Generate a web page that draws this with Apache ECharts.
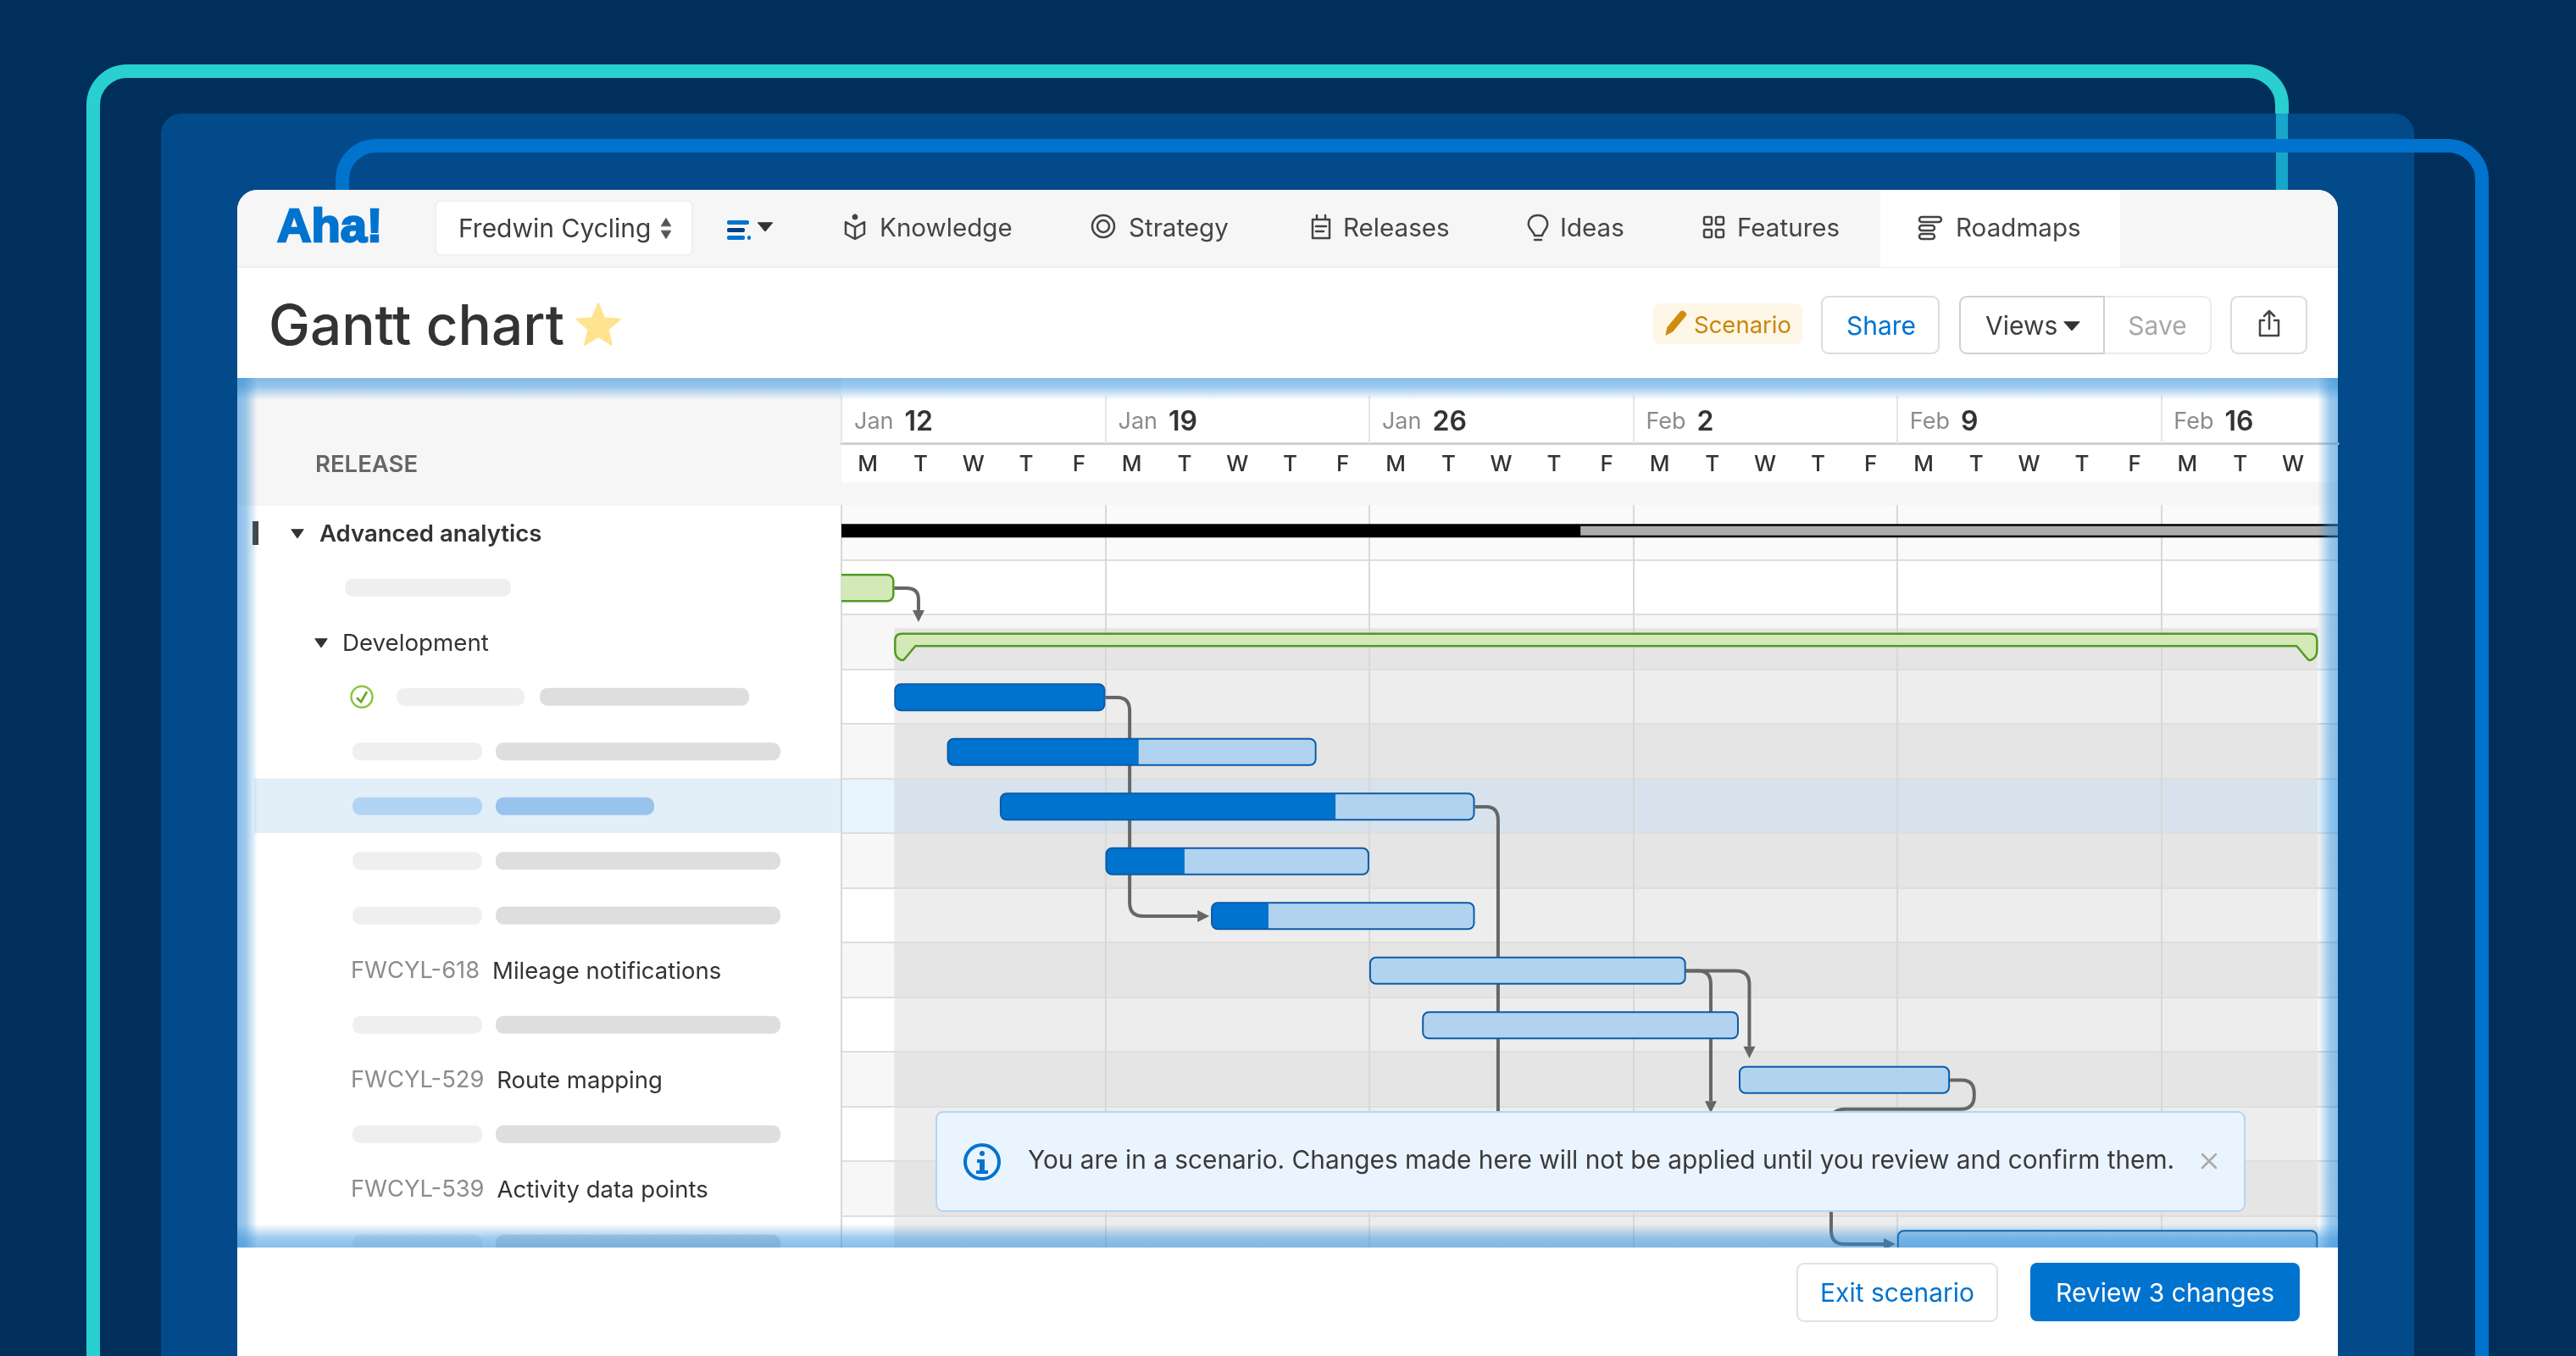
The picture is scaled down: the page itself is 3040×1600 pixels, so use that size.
<!DOCTYPE html>
<html>
<head>
<meta charset="utf-8">
<title>Gantt chart</title>
<script src="https://cdn.jsdelivr.net/npm/echarts@6/dist/echarts.min.js"></script>
<style>
html, body { margin: 0; padding: 0; background: #002f5c; }
#main { width: 3040px; height: 1600px; }
</style>
</head>
<body>
<div id="main"></div>
<script>
// timeline, counted in working days from Mon Jan 12
var weekMonths = ['Jan', 'Jan', 'Jan', 'Feb', 'Feb', 'Feb'];
var weekDays = [12, 19, 26, 2, 9, 16];
var dayLetters = ['M', 'T', 'W', 'T', 'F'];
var dayMax = 28.35;
var rowCount = 14;

// left column
var rowNames = ['Advanced analytics', '', 'Development', '', '', '', '', '', 'Mileage notifications', '', 'Route mapping', '', 'Activity data points', ''];
var rowIds = ['', '', '', '', '', '', '', '', 'FWCYL-618', '', 'FWCYL-529', '', 'FWCYL-539', ''];
var rowLevels = [0, 2, 1, 2, 2, 2, 2, 2, 2, 2, 2, 2, 2, 2];
var placeholderRows = [1, 3, 4, 5, 6, 7, 9, 11, 13];
var highlightRow = 5;
var doneRow = 3;

// release line on the first row
var releaseRow = [0];
var releaseStart = [-1];
var releaseDone = [14];
var releaseEnd = [30];

// lead-in bar and the phase bracket
var leadRow = [1];
var leadStart = [-1];
var leadEnd = [1];
var phaseRow = [2];
var phaseStart = [1];
var phaseEnd = [27.97];

// features
var taskRows = [3, 4, 5, 6, 7, 8, 9, 10, 13];
var taskStarts = [1, 2, 3, 5, 7, 10, 11, 17, 20];
var taskEnds = [5, 9, 12, 10, 12, 16, 17, 21, 27.97];
var taskDone = [5, 5.63, 9.36, 6.5, 8.09, 0, 0, 0, 0];

// dependency routes, [day, row]
var linkRoutes = [
	[[1, 1.5], [1.46, 1.5], [1.46, 2.12]],
	[[5, 3.5], [5.46, 3.5], [5.46, 7.5], [6.97, 7.5]],
	[[12, 5.5], [12.44, 5.5], [12.44, 11.5]],
	[[16, 8.5], [16.47, 8.5], [16.47, 11.1]],
	[[16, 8.5], [17.2, 8.5], [17.2, 10.1]],
	[[21, 10.5], [21.46, 10.5], [21.46, 11.03], [18.75, 11.03], [18.75, 13.5], [19.97, 13.5]]
];

var FONT = 'Inter, "Noto Sans", sans-serif';
var BLUE = '#0073cf';

function box(x, y, w, h, fill, opts) {
	opts = opts || {};
	return {
		type: 'rect', z: opts.z === undefined ? -2 : opts.z, silent: true,
		shape: { x: x, y: y, width: w, height: h, r: opts.r || 0 },
		style: { fill: fill, stroke: opts.stroke || null, lineWidth: opts.lw || 0 }
	};
}
function label(x, y, str, size, color, opts) {
	opts = opts || {};
	return {
		type: 'text', z: opts.z === undefined ? -1 : opts.z, silent: true, x: x, y: y,
		style: {
			text: str, fontFamily: opts.font || FONT, fontSize: size, fontWeight: opts.weight || 400,
			fill: color, align: opts.align || 'left', verticalAlign: 'middle',
			stroke: opts.stroke || null, lineWidth: opts.lw || 0
		}
	};
}
// svg-like icons go through a custom series, the graphic component has no path type
function icon(d, fill, stroke, lw) {
	return { d: d, fill: fill || 'none', stroke: stroke || null, lw: lw || 2.5 };
}
function tri(cx, cy, w, h, up, fill) {
	var d = up
		? 'M' + (cx - w / 2) + ' ' + (cy + h / 2) + 'L' + cx + ' ' + (cy - h / 2) + 'L' + (cx + w / 2) + ' ' + (cy + h / 2) + 'Z'
		: 'M' + (cx - w / 2) + ' ' + (cy - h / 2) + 'L' + cx + ' ' + (cy + h / 2) + 'L' + (cx + w / 2) + ' ' + (cy - h / 2) + 'Z';
	return icon(d, fill, fill, 1);
}
function starPath(cx, cy, R, r) {
	var d = '';
	for (var i = 0; i < 10; i++) {
		var rad = i % 2 ? r : R;
		var a = -Math.PI / 2 + i * Math.PI / 5;
		d += (i ? 'L' : 'M') + (cx + rad * Math.cos(a)).toFixed(1) + ' ' + (cy + rad * Math.sin(a)).toFixed(1);
	}
	return d + 'Z';
}
function grad(x1, y1, x2, y2) {
	return {
		type: 'linear', x: x1, y: y1, x2: x2, y2: y2,
		colorStops: [{ offset: 0, color: 'rgba(40,138,215,0.55)' }, { offset: 0.4, color: 'rgba(40,138,215,0.45)' }, { offset: 1, color: 'rgba(40,138,215,0)' }]
	};
}

// everything around the chart
var chrome = [
	box(110, 84, 2583, 1700, 'none', { r: 40, stroke: '#2acfd0', lw: 16 }),
	box(190, 134, 2659, 1600, '#034a8a', { r: 24 }),
	box(2686, 134, 14, 100, '#18a6cb'),
	box(404, 172, 2525, 1700, 'none', { r: 40, stroke: BLUE, lw: 16 }),
	box(280, 224, 2479, 1400, '#ffffff', { r: [24, 24, 0, 0] }),
	box(280, 224, 2479, 91, '#f6f6f6', { r: [24, 24, 0, 0] }),
	box(280, 314, 2479, 2, '#eeeeee'),
	box(2219, 224, 283, 91, '#ffffff'),
	// top bar
	label(327, 270, 'Aha!', 56, BLUE, { font: '"Liberation Sans", sans-serif', weight: 700, stroke: BLUE, lw: 2.5 }),
	box(514, 237, 303, 64, '#ffffff', { r: 6, stroke: '#f0f0f0', lw: 2 }),
	label(541, 271, 'Fredwin Cycling', 30, '#3d3d3d'),
	box(858, 260, 26, 5, BLUE, { r: 2 }), box(858, 269, 21, 5, '#003f7f', { r: 2 }), box(858, 278, 21, 5, BLUE, { r: 2 }), box(882, 278, 4, 5, BLUE, { r: 2 }),
	label(1038, 270, 'Knowledge', 29.6, '#444'),
	label(1332, 270, 'Strategy', 29.6, '#444'),
	label(1585, 270, 'Releases', 29.6, '#444'),
	label(1841, 270, 'Ideas', 29.6, '#444'),
	box(2011, 256, 9, 9, 'none', { r: 2, stroke: '#444', lw: 2.5, z: -1 }), box(2025, 256, 9, 9, 'none', { r: 2, stroke: '#444', lw: 2.5, z: -1 }),
	box(2011, 271, 9, 9, 'none', { r: 2, stroke: '#444', lw: 2.5, z: -1 }), box(2025, 271, 9, 9, 'none', { r: 2, stroke: '#444', lw: 2.5, z: -1 }),
	label(2050, 270, 'Features', 29.6, '#444'),
	box(2265, 256, 26, 6, 'none', { r: 3, stroke: '#444', lw: 2.5, z: -1 }), box(2265, 266, 18, 6, 'none', { r: 3, stroke: '#444', lw: 2.5, z: -1 }), box(2265, 276, 18, 6, 'none', { r: 3, stroke: '#444', lw: 2.5, z: -1 }),
	label(2308, 270, 'Roadmaps', 29.6, '#444'),
	// title row
	label(317, 387, 'Gantt chart', 65.5, '#333', { weight: 500 }),
	box(1951, 358, 176, 48, '#fef6e7', { r: 8 }),
	label(1999, 385, 'Scenario', 27.5, '#c9860b'),
	box(2150, 350, 138, 67, '#ffffff', { r: 8, stroke: '#dcdcdc', lw: 2 }),
	label(2220, 386, 'Share', 30, BLUE, { align: 'center' }),
	box(2483, 350, 126, 67, '#ffffff', { r: [0, 8, 8, 0], stroke: '#ebebeb', lw: 2 }),
	box(2313, 350, 170, 67, '#ffffff', { r: [8, 0, 0, 8], stroke: '#d0d0d0', lw: 2 }),
	label(2343, 386, 'Views', 30, '#3d3d3d'),
	label(2546, 386, 'Save', 30, '#a8a8a8', { align: 'center' }),
	box(2633, 350, 89, 67, '#ffffff', { r: 8, stroke: '#dcdcdc', lw: 2 }),
	// table heads
	box(280, 446, 713, 151, '#f6f6f6'),
	box(993, 569, 1766, 28, '#f6f6f6'),
	label(372, 549, 'RELEASE', 27.5, '#666', { weight: 600 }),
	box(298, 615, 7, 28, '#444')
];
var chromeIcons = [
	tri(786, 262, 11, 9, true, '#555'),
	tri(786, 277, 11, 9, false, '#555'),
	tri(903, 268, 17, 10, false, '#333'),
	icon('M998 262L1009 268L1020 262V276L1009 282L998 276ZM1009 268V282', 'none', '#444'),
	icon('M1009 253A3 3 0 1 1 1009 259A3 3 0 1 1 1009 253Z', '#444', '#444', 1),
	icon('M1302 254A13 13 0 1 1 1302 280A13 13 0 1 1 1302 254ZM1302 260A7 7 0 1 1 1302 274A7 7 0 1 1 1302 260Z', 'none', '#444'),
	icon('M1549 259H1569V281H1549ZM1554 254V259M1564 254V259M1553 267H1565M1553 273H1562', 'none', '#444'),
	icon('M1815 254C1823 254 1827 260 1826 266C1825 271 1821 273 1820 278H1811C1810 273 1805 271 1804 266C1803 260 1807 254 1815 254ZM1811 283H1819', 'none', '#444'),
	icon(starPath(706, 385, 27, 12), '#ffe38e', '#ffe38e', 2),
	icon('M1966 395L1968 386L1983 368C1986 365 1992 370 1989 373L1974 391Z', '#d08c0e', '#d08c0e', 1),
	tri(2445, 385, 18, 10, false, '#333'),
	icon('M2672 378H2667V396H2689V378H2684M2678 388V368M2672 373L2678 367L2684 373', 'none', '#444'),
	tri(351, 630, 14, 10, false, '#333'),
	tri(379, 759, 14, 10, false, '#333')
];

// drawn over the chart: page bottom, inner glow, notice, buttons
var overlay = [
	box(280, 1472, 2479, 128, '#ffffff', { z: 20 }),
	box(280, 446, 2479, 26, grad(0, 0, 0, 1), { z: 21 }),
	box(280, 1444, 2479, 28, grad(0, 1, 0, 0), { z: 21 }),
	box(280, 446, 24, 1026, grad(0, 0, 1, 0), { z: 21 }),
	box(2735, 446, 24, 1026, grad(1, 0, 0, 0), { z: 21 }),
	box(1105, 1312, 1544, 117, '#e9f4fe', { r: 8, stroke: '#b5d5f0', lw: 2, z: 22 }),
	box(1156, 1368, 6, 15, BLUE, { z: 23 }), box(1153, 1368, 5, 4, BLUE, { z: 23 }), box(1152, 1381, 14, 4, BLUE, { z: 23 }), box(1156, 1358, 6, 6, BLUE, { r: 3, z: 23 }),
	label(1213, 1370, 'You are in a scenario. Changes made here will not be applied until you review and confirm them.', 29.8, '#3a3a3a', { z: 23 }),
	box(2121, 1491, 236, 68, '#ffffff', { r: 8, stroke: '#e2e2e2', lw: 2, z: 23 }),
	label(2239, 1527, 'Exit scenario', 30, BLUE, { align: 'center', z: 23 }),
	box(2396, 1490, 318, 69, BLUE, { r: 8, z: 23 }),
	label(2555, 1527, 'Review 3 changes', 30, '#ffffff', { align: 'center', z: 23 })
];
var overlayIcons = [
	icon('M1159 1351A20 20 0 1 1 1159 1391A20 20 0 1 1 1159 1351Z', 'none', BLUE, 4),
	icon('M2599 1362L2615 1378M2615 1362L2599 1378', 'none', '#aaa', 2.5)
];

function iconSeries(list, z) {
	return {
		type: 'custom', coordinateSystem: 'none', z: z, silent: true,
		data: list.map(function (ic, i) { return [i]; }),
		renderItem: function (params, api) {
			var ic = list[api.value(0)];
			return {
				type: 'path',
				shape: { pathData: ic.d },
				style: { fill: ic.fill, stroke: ic.stroke, lineWidth: ic.lw, lineJoin: 'round', lineCap: 'round' }
			};
		}
	};
}

function bandItem(params, api) {
	var row = api.value(0);
	var a = api.coord([0, row]);
	var b = api.coord([dayMax, row + 1]);
	var fill = row === highlightRow ? '#e8f4fe' : (row === 0 ? '#fafafa' : (row % 2 === 0 ? '#f7f7f7' : '#ffffff'));
	var kids = [{ type: 'rect', shape: { x: a[0], y: a[1], width: b[0] - a[0], height: b[1] - a[1] }, style: { fill: fill } }];
	if (row === highlightRow) {
		kids.push({ type: 'rect', shape: { x: 300, y: a[1], width: a[0] - 300, height: b[1] - a[1] }, style: { fill: '#e2eef8' } });
	}
	return { type: 'group', children: kids };
}

function shadeItem(params, api) {
	var a = api.coord([api.value(0), api.value(2) + 0.25]);
	var b = api.coord([api.value(1), rowCount]);
	return { type: 'rect', shape: { x: a[0], y: a[1], width: b[0] - a[0], height: b[1] - a[1] }, style: { fill: 'rgba(0,0,0,0.07)' } };
}

function pillItem(params, api) {
	var row = api.value(0);
	var y = api.coord([0, row + 0.5])[1] - 10;
	var on = row === highlightRow;
	var kids = [];
	function pill(x, w, fill) {
		kids.push({ type: 'rect', shape: { x: x, y: y, width: w, height: 21, r: 9 }, style: { fill: fill } });
	}
	if (row === 1) {
		pill(407, 196, '#efefef');
	} else if (row === doneRow) {
		pill(468, 151, '#efefef');
		pill(637, 247, '#dedede');
		var c = y + 10.5;
		kids.push({ type: 'circle', shape: { cx: 427, cy: c, r: 12.5 }, style: { fill: 'none', stroke: '#8cc63f', lineWidth: 2.5 } });
		kids.push({ type: 'polyline', shape: { points: [[421, c + 1], [426, c + 6], [433, c - 6]] }, style: { fill: 'none', stroke: '#6aa324', lineWidth: 2.5 } });
	} else {
		pill(416, 153, on ? '#b2d4f4' : '#efefef');
		pill(585, on ? 187 : 336, on ? '#98c3ec' : '#dedede');
	}
	return { type: 'group', children: kids };
}

function roundedPath(pts, r) {
	var d = 'M' + pts[0][0] + ' ' + pts[0][1];
	for (var i = 1; i < pts.length - 1; i++) {
		var p = pts[i], a = pts[i - 1], b = pts[i + 1];
		var la = Math.hypot(a[0] - p[0], a[1] - p[1]), lb = Math.hypot(b[0] - p[0], b[1] - p[1]);
		var ra = Math.min(r, la / 2), rb = Math.min(r, lb / 2);
		d += 'L' + (p[0] + (a[0] - p[0]) / la * ra) + ' ' + (p[1] + (a[1] - p[1]) / la * ra);
		d += 'Q' + p[0] + ' ' + p[1] + ' ' + (p[0] + (b[0] - p[0]) / lb * rb) + ' ' + (p[1] + (b[1] - p[1]) / lb * rb);
	}
	var e = pts[pts.length - 1];
	return d + 'L' + e[0] + ' ' + e[1];
}

function linkItem(params, api) {
	var pts = linkRoutes[api.value(0)].map(function (p) {
		var c = api.coord(p);
		return [c[0], c[1] + 1.2];
	});
	var tip = pts[pts.length - 1], prev = pts[pts.length - 2];
	var len = Math.hypot(tip[0] - prev[0], tip[1] - prev[1]);
	var ux = (tip[0] - prev[0]) / len, uy = (tip[1] - prev[1]) / len;
	var base = [tip[0] - ux * 14, tip[1] - uy * 14];
	pts[pts.length - 1] = base;
	return {
		type: 'group',
		children: [{
			type: 'path',
			shape: { pathData: roundedPath(pts, 16) },
			style: { fill: 'none', stroke: '#666666', lineWidth: 4 }
		}, {
			type: 'polygon',
			shape: { points: [tip, [base[0] - uy * 7, base[1] + ux * 7], [base[0] + uy * 7, base[1] - ux * 7]] },
			style: { fill: '#666666' }
		}]
	};
}

function releaseItem(params, api) {
	var row = api.value(0);
	var s = api.coord([api.value(1), row + 0.5]);
	var m = api.coord([api.value(2), row + 0.5]);
	var e = api.coord([api.value(3), row + 0.5]);
	var top = s[1] - 10, h = 16;
	return {
		type: 'group',
		children: [
			{ type: 'rect', shape: { x: m[0], y: top, width: e[0] - m[0], height: h }, style: { fill: '#000000' } },
			{ type: 'rect', shape: { x: m[0], y: top + 2.5, width: e[0] - m[0], height: h - 5 }, style: { fill: '#adadad' } },
			{ type: 'rect', shape: { x: s[0], y: top, width: m[0] - s[0], height: h }, style: { fill: '#000000' } }
		]
	};
}

function leadItem(params, api) {
	var row = api.value(0);
	var s = api.coord([api.value(1), row + 0.5]);
	var e = api.coord([api.value(2), row + 0.5]);
	return {
		type: 'rect',
		shape: { x: s[0] + 1, y: s[1] - 14.5, width: e[0] - s[0] - 2, height: 31, r: 7 },
		style: { fill: '#d3e9b7', stroke: '#539a20', lineWidth: 2.5 }
	};
}

function phaseItem(params, api) {
	var row = api.value(0);
	var s = api.coord([api.value(1), row + 0.5]);
	var e = api.coord([api.value(2), row + 0.5]);
	var x1 = s[0] + 1, x2 = e[0] - 1, t = s[1] - 9.5, b = s[1] + 5, f = s[1] + 21.5;
	var d = 'M' + x1 + ' ' + (t + 8) + 'Q' + x1 + ' ' + t + ' ' + (x1 + 8) + ' ' + t +
		'L' + (x2 - 8) + ' ' + t + 'Q' + x2 + ' ' + t + ' ' + x2 + ' ' + (t + 8) +
		'L' + x2 + ' ' + (f - 11) + 'Q' + x2 + ' ' + (f - 3) + ' ' + (x2 - 7) + ' ' + f +
		'Q' + (x2 - 9) + ' ' + (f + 1) + ' ' + (x2 - 11) + ' ' + (f - 1) +
		'L' + (x2 - 24) + ' ' + b + 'L' + (x1 + 24) + ' ' + b + 'L' + (x1 + 11) + ' ' + (f - 1) +
		'Q' + (x1 + 9) + ' ' + (f + 1) + ' ' + (x1 + 7) + ' ' + f +
		'Q' + x1 + ' ' + (f - 3) + ' ' + x1 + ' ' + (f - 11) + 'Z';
	return { type: 'path', shape: { pathData: d }, style: { fill: '#d3e9b7', stroke: '#539a20', lineWidth: 2.5, lineJoin: 'round' } };
}

function taskItem(params, api) {
	var row = api.value(0);
	var s = api.coord([api.value(1), row + 0.5]);
	var e = api.coord([api.value(2), row + 0.5]);
	var dn = api.coord([api.value(3), row + 0.5]);
	var x = s[0] + 1, w = e[0] - s[0] - 2, y = s[1] - 14.5, h = 31, r = 7;
	var kids = [{ type: 'rect', shape: { x: x, y: y, width: w, height: h, r: r }, style: { fill: '#b1d3f0' } }];
	if (api.value(3) > 0) {
		var full = api.value(3) >= api.value(2);
		kids.push({
			type: 'rect',
			shape: { x: x, y: y, width: full ? w : dn[0] - x, height: h, r: full ? r : [r, 0, 0, r] },
			style: { fill: BLUE }
		});
	}
	kids.push({ type: 'rect', shape: { x: x, y: y, width: w, height: h, r: r }, style: { fill: 'none', stroke: '#0a5ca8', lineWidth: 2 } });
	return { type: 'group', children: kids };
}

function rowList() {
	var out = [];
	for (var i = 0; i < rowCount; i++) out.push([i]);
	return out;
}

var myChart = echarts.init(document.getElementById('main'));
var option = {
	animation: false,
	backgroundColor: '#002f5c',
	textStyle: { fontFamily: FONT },
	graphic: { elements: chrome.concat(overlay) },
	grid: [
		{ left: 993, right: 281, top: 596, bottom: 101 },
		{ left: 993, right: 281, top: 522, height: 1 }
	],
	xAxis: [{
		type: 'value', gridIndex: 0, position: 'top', min: 0, max: dayMax, interval: 5,
		axisLabel: { show: false }, axisLine: { show: false }, axisTick: { show: false },
		splitLine: { show: true, showMaxLine: false, lineStyle: { color: '#d8d8d8', width: 2 } }
	}, {
		type: 'value', gridIndex: 1, position: 'top', min: 0, max: dayMax, interval: 5,
		axisLine: { show: true, lineStyle: { color: '#d0d0d0', width: 3 } },
		axisTick: { show: true, length: 56, lineStyle: { color: '#e6e6e6', width: 2 } },
		splitLine: { show: false },
		axisLabel: {
			margin: 8, align: 'left', showMaxLabel: false, hideOverlap: false,
			formatter: function (v) {
				var i = v / 5;
				if (i % 1 !== 0 || i >= weekDays.length) return '';
				return '{m|' + weekMonths[i] + '}{d|' + weekDays[i] + '}';
			},
			rich: {
				m: { fontFamily: FONT, fontSize: 27, color: '#8c8c8c', padding: [0, 13, 0, 15] },
				d: { fontFamily: FONT, fontSize: 32, fontWeight: 600, color: '#333333' }
			}
		}
	}, {
		type: 'value', gridIndex: 1, position: 'top', min: 0, max: dayMax, interval: 0.5,
		axisLine: { show: false }, axisTick: { show: false }, splitLine: { show: false },
		axisLabel: {
			inside: true, margin: 13, fontFamily: FONT, fontSize: 26, fontWeight: 500, color: '#333333',
			showMaxLabel: false, hideOverlap: false,
			formatter: function (v) {
				return v % 1 === 0.5 ? dayLetters[Math.floor(v) % 5] : '';
			}
		}
	}],
	yAxis: [{
		type: 'value', gridIndex: 0, inverse: true, min: 0, max: rowCount, interval: 1,
		axisLabel: { show: false }, axisLine: { show: false }, axisTick: { show: false },
		splitLine: { show: true, showMinLine: false, lineStyle: { color: '#dedede', width: 2 } }
	}, {
		type: 'category', gridIndex: 0, inverse: true, data: rowNames, position: 'left',
		axisLine: { show: false }, axisTick: { show: false }, splitLine: { show: false },
		axisLabel: {
			interval: 0, align: 'left', margin: 616, hideOverlap: false,
			formatter: function (name, i) {
				if (!name) return '';
				if (rowIds[i]) return '{id|' + rowIds[i] + '}{name|' + name + '}';
				return rowLevels[i] === 0 ? '{top|' + name + '}' : '{sub|' + name + '}';
			},
			rich: {
				top: { fontFamily: FONT, fontSize: 27.5, fontWeight: 600, color: '#333333', padding: [4, 0, 0, 0] },
				sub: { fontFamily: FONT, fontSize: 27.7, color: '#333333', padding: [4, 0, 0, 27] },
				id: { fontFamily: FONT, fontSize: 27.3, color: '#8c8c8c', padding: [4, 15, 0, 37] },
				name: { fontFamily: FONT, fontSize: 27.5, color: '#333333', padding: [4, 0, 0, 0] }
			}
		}
	}, {
		type: 'value', gridIndex: 1, show: false, min: 0, max: 1
	}],
	series: [
		iconSeries(chromeIcons, 0),
		iconSeries(overlayIcons, 23),
		{ type: 'custom', name: 'rows', z: -1, clip: false, silent: true, renderItem: bandItem, data: rowList(), encode: { x: 0, y: 0 } },
		{ type: 'custom', name: 'shade', z: -1, silent: true, clip: true, renderItem: shadeItem, data: [[phaseStart[0], phaseEnd[0], phaseRow[0]]], encode: { x: 0, y: 2 } },
		{ type: 'custom', name: 'placeholders', z: 1, silent: true, clip: false, renderItem: pillItem, data: placeholderRows.map(function (r) { return [r]; }), encode: { x: 0, y: 0 } },
		{ type: 'custom', name: 'links', z: 2, silent: true, clip: true, renderItem: linkItem, data: linkRoutes.map(function (r, i) { return [i]; }), encode: { x: 0, y: 0 } },
		{ type: 'custom', name: 'release', z: 3, silent: true, clip: true, renderItem: releaseItem, encode: { x: 1, y: 0 },
			data: releaseRow.map(function (r, i) { return [r, releaseStart[i], releaseDone[i], releaseEnd[i]]; }) },
		{ type: 'custom', name: 'lead', z: 3, silent: true, clip: true, renderItem: leadItem, encode: { x: 1, y: 0 },
			data: leadRow.map(function (r, i) { return [r, leadStart[i], leadEnd[i]]; }) },
		{ type: 'custom', name: 'phase', z: 3, silent: true, clip: true, renderItem: phaseItem, encode: { x: 1, y: 0 },
			data: phaseRow.map(function (r, i) { return [r, phaseStart[i], phaseEnd[i]]; }) },
		{ type: 'custom', name: 'tasks', z: 3, silent: true, clip: true, renderItem: taskItem, encode: { x: 1, y: 0 },
			data: taskRows.map(function (r, i) { return [r, taskStarts[i], taskEnds[i], taskDone[i]]; }) }
	]
};
myChart.setOption(option);
</script>
</body>
</html>
